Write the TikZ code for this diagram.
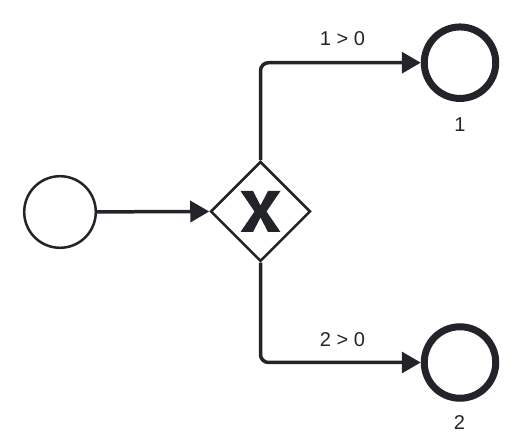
\documentclass[tikz,border=0pt]{standalone}
\usepackage{fontspec}
\setmainfont{Liberation Sans}
\usetikzlibrary{shapes.geometric,arrows.meta}
\definecolor{ink}{RGB}{34,36,42}
\begin{document}
\begin{tikzpicture}[x=1pt,y=-1pt,
  startev/.style={circle,draw=ink,line width=2.5pt,minimum size=71.6pt,inner sep=0pt,fill=white},
  endev/.style={circle,draw=ink,line width=7pt,minimum size=71.5pt,inner sep=0pt,fill=white},
  gate/.style={diamond,draw=ink,line width=2.5pt,minimum width=100pt,minimum height=100pt,inner sep=0pt,fill=white},
  flow/.style={draw=ink,line width=3.5pt,rounded corners=8pt,-{Triangle[length=19pt,width=21pt]}},
  lbl/.style={font=\fontsize{20pt}{22pt}\selectfont,text=ink,inner sep=0pt}]
\useasboundingbox (0,0) rectangle (520,446);
\node[startev] (s) at (60,212) {};
\node[gate] (g) at (260.5,211.5) {};
\fill[ink,shift={(260.5,211.5)}]
  (-20,-20.5) -- (-7.5,-20.5) -- (0,-6) -- (7.5,-20.5) -- (20,-20.5) -- (6,0)
  -- (20,20.5) -- (7.5,20.5) -- (0,6) -- (-7.5,20.5) -- (-20,20.5) -- (-6,0) -- cycle;
\node[endev] (e1) at (460,62.7) {};
\node[endev] (e2) at (460,362.5) {};
\draw[flow] (s) -- (g.west);
\draw[flow] (g.north) |- (e1.west);
\draw[flow] (g.south) |- (e2.west);
\node[lbl] (l1) at (342.5,39) {1 > 0};
\node[lbl] (l2) at (342.5,340) {2 > 0};
\node[lbl] (n1) at (460,125) {1};
\node[lbl] (n2) at (459.5,423) {2};
\end{tikzpicture}
\end{document}
